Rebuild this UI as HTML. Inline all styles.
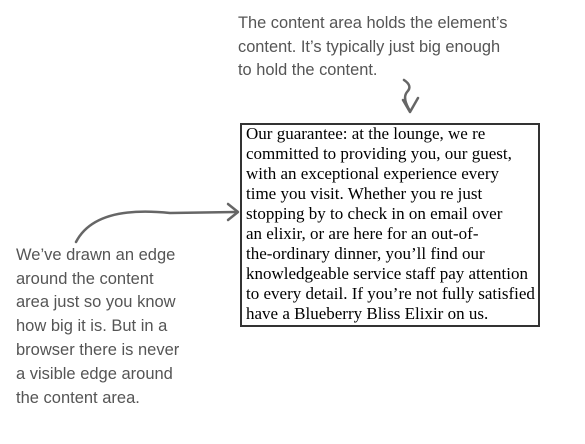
<!DOCTYPE html>
<html><head><meta charset="utf-8"><style>
html,body{margin:0;padding:0;background:#fff;width:585px;height:444px;overflow:hidden;position:relative}
.h{position:absolute;font-family:"Liberation Sans",sans-serif;font-size:16.4px;color:#555;white-space:nowrap;line-height:18px}
.l{font-size:16.5px}
.box{position:absolute;left:240px;top:123px;width:300px;height:204px;border:2.5px solid #333;box-sizing:border-box}
.t{position:absolute;left:246px;font-family:"Liberation Serif",serif;font-size:17px;color:#000;white-space:nowrap;line-height:20px}
</style></head><body>
<div class="h" style="left:238px;top:14px">The content area holds the element’s</div>
<div class="h" style="left:238px;top:38px">content. It’s typically just big enough</div>
<div class="h" style="left:238px;top:61px">to hold the content.</div>

<div class="h l" style="left:16px;top:246px">We’ve drawn an edge</div>
<div class="h l" style="left:16px;top:270px">around the content</div>
<div class="h l" style="left:16px;top:293px">area just so you know</div>
<div class="h l" style="left:16px;top:317px">how big it is. But in a</div>
<div class="h l" style="left:16px;top:341px">browser there is never</div>
<div class="h l" style="left:16px;top:365px">a visible edge around</div>
<div class="h l" style="left:16px;top:389px">the content area.</div>

<svg width="585" height="444" style="position:absolute;left:0;top:0" fill="none" stroke="#666" stroke-width="2.5" stroke-linecap="round" stroke-linejoin="round">
<path d="M404 80 Q413 86 407 92 Q402 98 410 111"/>
<path d="M403 100 L410 112 L418 98"/>
<path d="M76 242 Q95 205 170 213 L236 212"/>
<path d="M228 204 L238 212 L228 220"/>
</svg>

<div class="box"></div>
<div class="t" style="top:124px">Our guarantee: at the lounge, we re</div>
<div class="t" style="top:144px">committed to providing you, our guest,</div>
<div class="t" style="top:164px">with an exceptional experience every</div>
<div class="t" style="top:184px">time you visit. Whether you re just</div>
<div class="t" style="top:204px">stopping by to check in on email over</div>
<div class="t" style="top:224px">an elixir, or are here for an out-of-</div>
<div class="t" style="top:244px">the-ordinary dinner, you’ll find our</div>
<div class="t" style="top:264px">knowledgeable service staff pay attention</div>
<div class="t" style="top:284px">to every detail. If you’re not fully satisfied</div>
<div class="t" style="top:304px">have a Blueberry Bliss Elixir on us.</div>
</body></html>
